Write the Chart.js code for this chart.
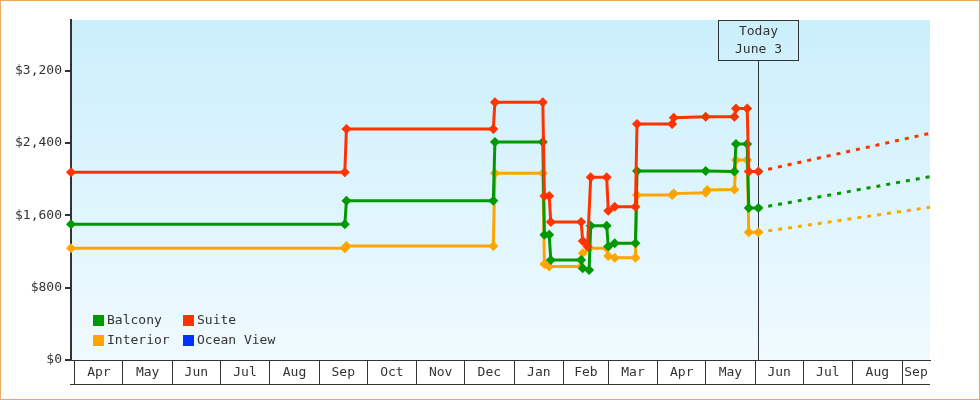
<!DOCTYPE html>
<html><head><meta charset="utf-8">
<script src="https://cdn.jsdelivr.net/npm/chart.js@4.4.1/dist/chart.umd.min.js"></script>
<style>
html,body{margin:0;padding:0;background:#fff;}
#wrap{position:relative;width:980px;height:400px;}
#frame{position:absolute;left:0;top:0;width:980px;height:400px;box-sizing:border-box;border:1px solid #e9a965;pointer-events:none;}
canvas{display:block;}
</style></head><body>
<div id="wrap"><canvas id="c" width="980" height="400"></canvas><div id="frame"></div></div>
<script>
// ---- Data (x = days since Apr 1 of the first year) ----
const monthLabels = ['Apr','May','Jun','Jul','Aug','Sep','Oct','Nov','Dec','Jan','Feb','Mar','Apr','May','Jun','Jul','Aug','Sep'];
const monthStartDays = [0,30,61,91,122,153,183,214,244,275,306,334,365,395,426,456,487,518];
const xRange = [-2.5, 535.5];
const yTickValues = [0, 800, 1600, 2400, 3200];
const yMax = 3760;

const balconyDays   = [-2.5,169,170,262,263,293,294,297,298,317,318,322,323,333,334,338,351,352,395,413,414,421,422,428];
const balconyPrices = [1500,1500,1760,1760,2410,2410,1385,1385,1105,1105,1015,995,1485,1485,1255,1290,1290,2090,2090,2085,2390,2390,1680,1680];

const suiteDays   = [-2.5,169,170,262,263,293,294,297,298,317,318,321,323,333,334,338,351,352,374,375,395,413,414,421,422,428];
const suitePrices = [2075,2075,2555,2555,2850,2850,1815,1815,1525,1525,1315,1255,2020,2020,1650,1695,1695,2610,2610,2680,2690,2690,2780,2780,2085,2085];

const interiorDays   = [-2.5,169,170,262,263,293,294,297,317,318,322,333,334,338,351,352,374,375,395,396,413,414,421,422,428];
const interiorPrices = [1235,1235,1262,1262,2065,2065,1062,1035,1035,1180,1235,1235,1150,1132,1132,1825,1825,1840,1850,1880,1885,2212,2212,1412,1412];

const oceanViewDays = [];
const oceanViewPrices = [];

const forecastDays = [428, 535.5];
const suiteForecast = [2085, 2507];
const balconyForecast = [1680, 2028];
const interiorForecast = [1412, 1689];

const todayDay = 428;
const todayText = ['Today', 'June 3'];

// ---- Styling ----
const GREEN = '#009900', RED = '#ff3300', ORANGE = '#ffa500', BLUE = '#0033ff';
const TXT = '#333333';
const FONT = '"DejaVu Sans Mono", monospace';

function pts(days, vals){ return days.map((d,i)=>({x:d, y:vals[i]})); }
const common = {borderWidth:3, pointStyle:'rectRot', pointRadius:5, pointHoverRadius:5, pointBorderWidth:0, tension:0, fill:false, clip:8};
const dash = {borderWidth:3, borderDash:[4,6], pointRadius:0, pointHoverRadius:0, tension:0, fill:false, clip:8};

// month boundaries + label midpoints
const mids = monthStartDays.map((d,i)=> i<monthStartDays.length-1 ? (d+monthStartDays[i+1])/2 : (d+xRange[1])/2);
const xTickList = monthStartDays.map(v=>({value:v, b:true})).concat(mids.map((v,i)=>({value:v, b:false, label:monthLabels[i]}))).sort((a,b)=>a.value-b.value);

const bgPlugin = {
  id:'bg',
  beforeDraw(chart){
    const {ctx, chartArea:a} = chart;
    const g = ctx.createLinearGradient(0, a.top, 0, a.bottom);
    g.addColorStop(0, 'rgb(203,239,252)');
    g.addColorStop(1, 'rgb(240,250,255)');
    ctx.save(); ctx.fillStyle = g; ctx.fillRect(a.left, a.top, a.right-a.left, a.bottom-a.top); ctx.restore();
  }
};
const todayPlugin = {
  id:'today',
  beforeDatasetsDraw(chart){
    const {ctx, chartArea:a} = chart;
    const x = Math.round(chart.scales.x.getPixelForValue(todayDay)) + 0.5;
    ctx.save(); ctx.strokeStyle = TXT; ctx.lineWidth = 1;
    ctx.beginPath(); ctx.moveTo(x, a.top+40); ctx.lineTo(x, a.bottom); ctx.stroke();
    ctx.strokeRect(x-40, a.top+0.5, 80, 40);
    ctx.fillStyle = TXT; ctx.font = '13px ' + FONT; ctx.textAlign = 'center'; ctx.textBaseline = 'middle';
    ctx.fillText(todayText[0], x, a.top+12);
    ctx.fillText(todayText[1], x, a.top+30);
    ctx.restore();
  }
};
const legendPlugin = {
  id:'cornerLegend',
  afterDatasetsDraw(chart){
    const {ctx, chartArea:a} = chart;
    const items = [0,1,2,3].map(i=>chart.data.datasets[i]);
    ctx.save(); ctx.font = '13px ' + FONT; ctx.textBaseline = 'middle'; ctx.textAlign = 'left';
    items.forEach((ds, k)=>{
      const col = k % 2, row = Math.floor(k/2);
      const x = a.left + 22 + col*90, y = a.bottom - 45 + row*20;
      ctx.fillStyle = ds.borderColor; ctx.fillRect(x, y, 11, 11);
      ctx.fillStyle = TXT; ctx.fillText(ds.label, x+14, y+6);
    });
    ctx.restore();
  }
};
const axisBottomPlugin = {
  id:'axisBottom',
  afterDraw(chart){
    const {ctx, chartArea:a} = chart; const s = chart.scales.x;
    ctx.save(); ctx.strokeStyle = TXT; ctx.lineWidth = 1;
    ctx.beginPath(); ctx.moveTo(a.left-1, s.bottom-0.5); ctx.lineTo(a.right, s.bottom-0.5); ctx.stroke();
    ctx.restore();
  }
};

new Chart(document.getElementById('c'), {
  type:'line',
  data:{ datasets:[
    Object.assign({label:'Balcony', data:pts(balconyDays,balconyPrices), borderColor:GREEN, backgroundColor:GREEN, order:2}, common),
    Object.assign({label:'Suite', data:pts(suiteDays,suitePrices), borderColor:RED, backgroundColor:RED, order:1}, common),
    Object.assign({label:'Interior', data:pts(interiorDays,interiorPrices), borderColor:ORANGE, backgroundColor:ORANGE, order:3}, common),
    Object.assign({label:'Ocean View', data:pts(oceanViewDays,oceanViewPrices), borderColor:BLUE, backgroundColor:BLUE, order:4}, common),
    Object.assign({label:'Suite forecast', data:pts(forecastDays,suiteForecast), borderColor:RED, order:5}, dash),
    Object.assign({label:'Balcony forecast', data:pts(forecastDays,balconyForecast), borderColor:GREEN, order:6}, dash),
    Object.assign({label:'Interior forecast', data:pts(forecastDays,interiorForecast), borderColor:ORANGE, order:7}, dash)
  ]},
  options:{
    responsive:false, animation:false, devicePixelRatio:1,
    layout:{padding:{left:0, right:50, top:20, bottom:15}},
    plugins:{legend:{display:false}, tooltip:{enabled:false}},
    events:[],
    scales:{
      x:{
        type:'linear', min:xRange[0], max:xRange[1], position:'bottom',
        afterFit(s){ s.height = 25; },
        afterBuildTicks(s){ s.ticks = xTickList.map(t=>({value:t.value})); },
        grid:{drawOnChartArea:false, drawTicks:true, tickLength:25, lineWidth:1,
          color(ctx){ const t = xTickList[ctx.index]; return (t && t.b) ? TXT : 'rgba(0,0,0,0)'; }},
        border:{display:true, color:TXT, width:1},
        ticks:{autoSkip:false, maxRotation:0, minRotation:0, padding:-20, color:TXT, font:{family:FONT, size:13},
          callback(v, i){ const t = xTickList[i]; return (t && !t.b) ? t.label : ''; }}
      },
      y:{
        type:'linear', min:0, max:yMax, position:'left',
        afterFit(s){ s.width = 71; },
        afterBuildTicks(s){ s.ticks = yTickValues.map(v=>({value:v})); },
        grid:{drawOnChartArea:false, drawTicks:true, tickLength:6, lineWidth:2, color:TXT},
        border:{display:true, color:TXT, width:2},
        ticks:{padding:3, color:TXT, font:{family:FONT, size:13},
          callback(v){ return '$' + Number(v).toLocaleString('en-US'); }}
      }
    }
  },
  plugins:[bgPlugin, todayPlugin, legendPlugin, axisBottomPlugin]
});
</script></body></html>
